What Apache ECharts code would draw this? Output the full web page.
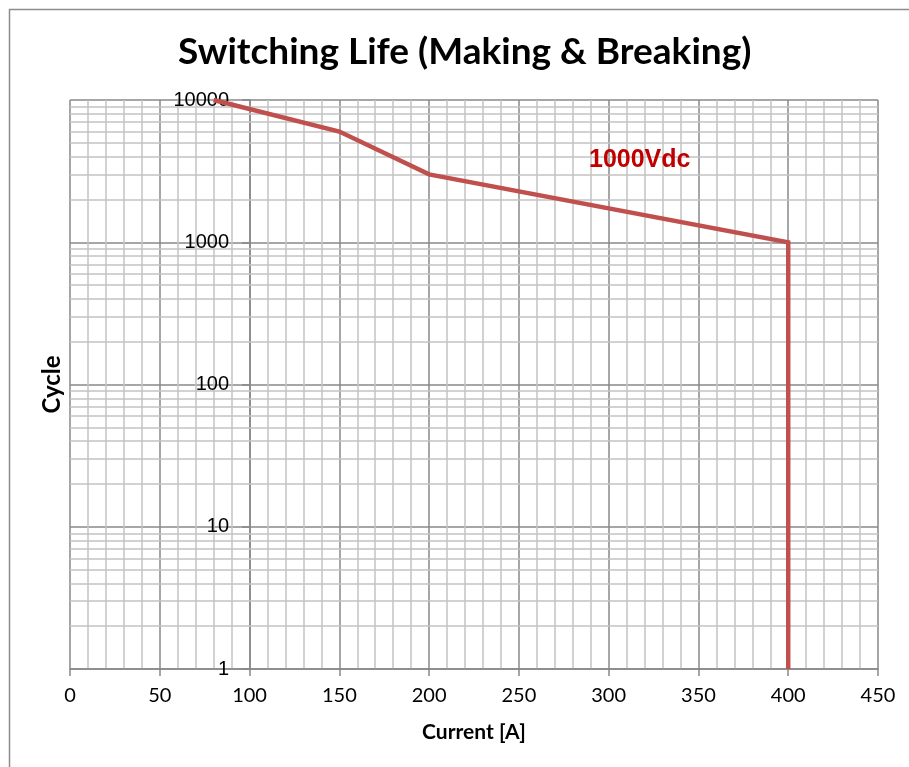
<!DOCTYPE html>
<html>
<head>
<meta charset="utf-8">
<script src="https://cdn.jsdelivr.net/npm/echarts@6/dist/echarts.min.js"></script>
<style>
  html, body { margin: 0; padding: 0; background: #fff; }
  #chart { width: 909px; height: 767px; }
</style>
</head>
<body>
<div id="chart"></div>
<script>
// data
const currentA = [80, 150, 200, 400, 400]
const cycles = [10000, 6000, 3000, 1000, 1]
const minorYTicks = [
  2, 3, 4, 5, 6, 7, 8, 9,
  20, 30, 40, 50, 60, 70, 80, 90,
  200, 300, 400, 500, 600, 700, 800, 900,
  2000, 3000, 4000, 5000, 6000, 7000, 8000, 9000
]

const majorGrid = '#888888'
const minorGrid = '#c3c3c3'

const myChart = echarts.init(document.getElementById('chart'))
const option = {
  animation: false,
  title: [
    {
      text: 'Switching Life (Making & Breaking)',
      left: 173,
      top: 29,
      textStyle: { fontFamily: 'Lato', fontWeight: 'bold', fontSize: 37, color: '#000' }
    },
    {
      text: '1000Vdc',
      left: 584,
      top: 143,
      textStyle: { fontFamily: 'Liberation Sans', fontWeight: 'bold', fontSize: 25, color: '#c00000' }
    }
  ],
  graphic: [{
    type: 'rect',
    left: 7,
    top: 7,
    shape: { width: 1000, height: 1000 },
    style: { fill: 'none', stroke: '#8c8c8c', lineWidth: 1.5 },
    silent: true
  }],
  grid: { left: 70, top: 100, width: 808, height: 569, containLabel: false },
  xAxis: {
    type: 'value',
    min: 0,
    max: 450,
    interval: 50,
    name: 'Current [A]',
    nameLocation: 'middle',
    nameGap: 53,
    nameTextStyle: { fontFamily: 'Lato', fontWeight: 'bold', fontSize: 21, color: '#000' },
    axisLine: { lineStyle: { color: majorGrid, width: 1.5 } },
    axisTick: { length: 7, lineStyle: { color: majorGrid, width: 1.5 } },
    axisLabel: { margin: 17, fontFamily: 'Lato', fontSize: 20, color: '#000' },
    splitLine: { lineStyle: { color: majorGrid, width: 1.5 } },
    minorTick: { show: false, splitNumber: 5 },
    minorSplitLine: { show: true, lineStyle: { color: minorGrid, width: 1.5 } }
  },
  yAxis: {
    type: 'log',
    logBase: 10,
    min: 1,
    max: 10000,
    offset: -180,
    name: 'Cycle',
    nameLocation: 'middle',
    nameGap: 186,
    nameRotate: 90,
    nameTextStyle: { fontFamily: 'Lato', fontWeight: 'bold', fontSize: 24, color: '#000' },
    axisLine: { show: true, lineStyle: { color: majorGrid, width: 1.5 } },
    axisTick: { length: 8, lineStyle: { color: majorGrid, width: 1.5 } },
    axisLabel: {
      margin: 21,
      fontFamily: 'Liberation Sans',
      fontSize: 20,
      color: '#000',
      formatter: v => String(Math.round(v))
    },
    splitLine: { lineStyle: { color: majorGrid, width: 1.5 } }
  },
  series: [
    {
      name: 'minor',
      type: 'line',
      data: [],
      z: 1,
      silent: true,
      markLine: {
        silent: true,
        symbol: 'none',
        animation: false,
        label: { show: false },
        lineStyle: { color: minorGrid, width: 1.5, type: 'solid' },
        data: minorYTicks.map(v => ({ yAxis: v }))
      }
    },
    {
      name: '1000Vdc',
      type: 'line',
      z: 5,
      data: currentA.map((x, i) => [x, cycles[i]]),
      showSymbol: false,
      symbol: 'none',
      lineStyle: { color: '#c0504d', width: 4.5, cap: 'butt', join: 'miter' }
    }
  ]
}

myChart.setOption(option)
</script>
</body>
</html>
